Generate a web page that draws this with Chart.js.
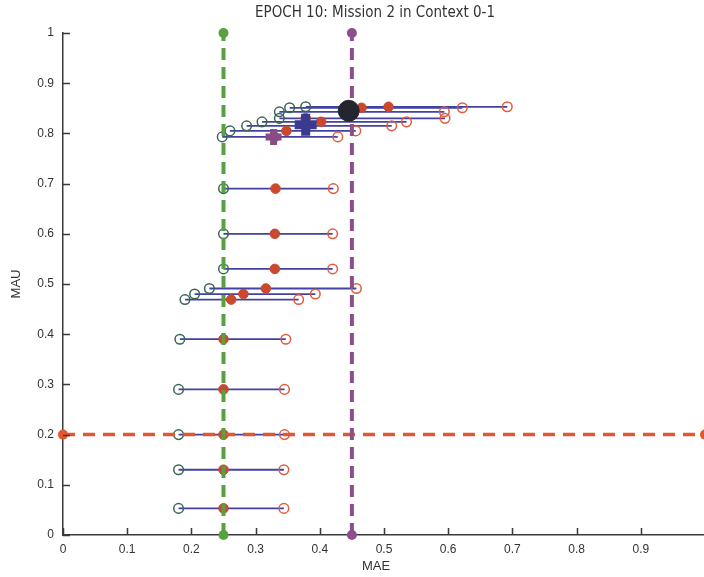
<!DOCTYPE html>
<html>
<head>
<meta charset="utf-8">
<script src="https://cdn.jsdelivr.net/npm/chart.js@4.4.1/dist/chart.umd.min.js"></script>
<style>
  html, body { margin: 0; padding: 0; background: #fff; overflow: hidden; width: 704px; height: 577px; }
  canvas { position: absolute; left: 0; top: 0; }
</style>
</head>
<body>
<canvas id="c" width="712" height="577"></canvas>
<script>
const chartTitle = 'EPOCH 10: Mission 2 in Context 0-1';
const xAxisTitle = 'MAE';
const yAxisTitle = 'MAU';
const xTickValues = [0, 0.1, 0.2, 0.3, 0.4, 0.5, 0.6, 0.7, 0.8, 0.9, 1];
const xTickLabels = ['0', '0.1', '0.2', '0.3', '0.4', '0.5', '0.6', '0.7', '0.8', '0.9', ''];
const yTickValues = [0, 0.1, 0.2, 0.3, 0.4, 0.5, 0.6, 0.7, 0.8, 0.9, 1];
const yTickLabels = ['0', '0.1', '0.2', '0.3', '0.4', '0.5', '0.6', '0.7', '0.8', '0.9', '1'];

// One row per design: MAU level, with MAE lower bound / estimate / upper bound
const rowMAU  = [0.053, 0.13, 0.20, 0.29, 0.39, 0.469, 0.480, 0.491, 0.53, 0.60, 0.69, 0.793, 0.805, 0.815, 0.823, 0.830, 0.843, 0.851, 0.853];
const lowMAE  = [0.180, 0.180, 0.180, 0.180, 0.182, 0.190, 0.205, 0.228, 0.250, 0.250, 0.250, 0.248, 0.260, 0.286, 0.310, 0.337, 0.337, 0.353, 0.378];
const midMAE  = [0.250, 0.250, 0.250, 0.250, 0.250, 0.262, 0.281, 0.316, 0.330, 0.330, 0.331, 0.330, 0.348, 0.380, 0.402, 0.378, 0.445, 0.465, 0.507];
const highMAE = [0.344, 0.344, 0.345, 0.345, 0.347, 0.367, 0.393, 0.457, 0.420, 0.420, 0.421, 0.428, 0.456, 0.512, 0.535, 0.595, 0.594, 0.622, 0.692];

// Threshold lines
const maeThresholds = [0.25, 0.45];
const mauThreshold = 0.2;

// Summary markers: black circle, blue cross, purple cross
const summaryMAE = [0.445, 0.378, 0.328];
const summaryMAU = [0.845, 0.817, 0.793];

const FONT = '"Liberation Sans", Arial, sans-serif';
const TITLE_FONT = '"DejaVu Sans Condensed", "Liberation Sans", sans-serif';
Chart.defaults.font.family = FONT;

const rowLineColor = '#4242a4';
const datasets = [];

// summary markers (top-most)
datasets.push({
  type: 'scatter', order: 0, clip: false,
  data: [{ x: summaryMAE[0], y: summaryMAU[0] }],
  pointRadius: 10.5, pointBackgroundColor: '#25252d', pointBorderColor: '#25252d', pointBorderWidth: 1
});
datasets.push({
  type: 'scatter', order: 0, clip: false,
  data: [{ x: summaryMAE[1], y: summaryMAU[1] }],
  pointStyle: 'cross', pointRadius: 11, pointBorderColor: '#3a3a8e', pointBorderWidth: 9
});
datasets.push({
  type: 'scatter', order: 0, clip: false,
  data: [{ x: summaryMAE[2], y: summaryMAU[2] }],
  pointStyle: 'cross', pointRadius: 8, pointBorderColor: '#8a4c84', pointBorderWidth: 7
});

// threshold lines
const thrColors = ['#58a040', '#8c4f8c'];
maeThresholds.forEach((v, i) => {
  datasets.push({
    type: 'line', order: 2, clip: false,
    data: [{ x: v, y: 0 }, { x: v, y: 1 }],
    borderColor: thrColors[i], borderWidth: 4, borderDash: [12, 7],
    pointRadius: 5, pointBackgroundColor: thrColors[i], pointBorderColor: thrColors[i], pointBorderWidth: 0
  });
});
datasets.push({
  type: 'line', order: 2, clip: false,
  data: [{ x: 0, y: mauThreshold }, { x: 1, y: mauThreshold }],
  borderColor: '#e0582c', borderWidth: 3.5, borderDash: [12, 8],
  pointRadius: 5, pointBackgroundColor: '#e0582c', pointBorderColor: '#e0582c', pointBorderWidth: 0
});

// row markers
datasets.push({
  type: 'scatter', order: 5,
  data: rowMAU.map((y, i) => ({ x: midMAE[i], y })),
  pointRadius: 4.8, pointBackgroundColor: '#c9482e', pointBorderColor: '#c9482e', pointBorderWidth: 1
});
datasets.push({
  type: 'scatter', order: 6,
  data: rowMAU.map((y, i) => ({ x: lowMAE[i], y })),
  pointRadius: 4.8, pointBackgroundColor: 'rgba(0,0,0,0)', pointBorderColor: '#3b6656', pointBorderWidth: 1.5
});
datasets.push({
  type: 'scatter', order: 6,
  data: rowMAU.map((y, i) => ({ x: highMAE[i], y })),
  pointRadius: 4.8, pointBackgroundColor: 'rgba(0,0,0,0)', pointBorderColor: '#e35a3c', pointBorderWidth: 1.5
});

// row segments
rowMAU.forEach((y, i) => {
  datasets.push({
    type: 'line', order: 10,
    data: [{ x: lowMAE[i], y }, { x: highMAE[i], y }],
    borderColor: rowLineColor, borderWidth: 1.8, pointRadius: 0
  });
});

const axisColor = '#3a3a3a';

const matlabAxes = {
  id: 'matlabAxes',
  afterDatasetsDraw(chart) {
    const { ctx, chartArea, scales } = chart;
    ctx.save();
    ctx.strokeStyle = axisColor;
    ctx.lineWidth = 1.5;
    ctx.beginPath();
    yTickValues.forEach(v => {
      const py = Math.round(scales.y.getPixelForValue(v)) + 0.5;
      ctx.moveTo(chartArea.left, py);
      ctx.lineTo(chartArea.left + 7, py);
    });
    xTickValues.forEach(v => {
      const px = Math.round(scales.x.getPixelForValue(v)) + 0.5;
      ctx.moveTo(px, chartArea.bottom);
      ctx.lineTo(px, chartArea.bottom - 7);
    });
    ctx.stroke();
    ctx.restore();
  },
  afterDraw(chart) {
    const { ctx } = chart;
    ctx.save();
    ctx.fillStyle = '#333';
    ctx.textAlign = 'center';
    ctx.textBaseline = 'middle';
    ctx.font = '15px ' + TITLE_FONT;
    ctx.fillText(chartTitle, 375, 13);
    ctx.font = '13px ' + FONT;
    ctx.fillText(xAxisTitle, 376, 566);
    ctx.translate(16, 284);
    ctx.rotate(-Math.PI / 2);
    ctx.fillText(yAxisTitle, 0, 0);
    ctx.restore();
  }
};

new Chart(document.getElementById('c'), {
  type: 'scatter',
  data: { datasets },
  options: {
    responsive: false,
    devicePixelRatio: 1,
    animation: false,
    events: [],
    layout: { autoPadding: false, padding: { top: 33, right: 7, left: 0, bottom: 0 } },
    plugins: { legend: { display: false }, tooltip: { enabled: false }, title: { display: false } },
    scales: {
      x: {
        type: 'linear', min: 0, max: 1,
        afterFit(s) { s.height = 42; s.paddingLeft = 0; s.paddingRight = 0; },
        afterBuildTicks(s) { s.ticks = xTickValues.map(v => ({ value: v })); },
        grid: { display: false, drawTicks: false },
        border: { display: true, color: axisColor, width: 1.5 },
        ticks: {
          padding: 7, color: '#333', font: { size: 12 }, maxRotation: 0, autoSkip: false,
          callback: (v, i) => xTickLabels[i]
        }
      },
      y: {
        type: 'linear', min: 0, max: 1,
        afterFit(s) { s.width = 63; },
        afterBuildTicks(s) { s.ticks = yTickValues.map(v => ({ value: v })); },
        grid: { display: false, drawTicks: false },
        border: { display: true, color: axisColor, width: 1.5 },
        ticks: {
          padding: 9, color: '#333', font: { size: 12 }, autoSkip: false,
          callback: (v, i) => yTickLabels[i]
        }
      }
    }
  },
  plugins: [matlabAxes]
});
</script>
</body>
</html>
